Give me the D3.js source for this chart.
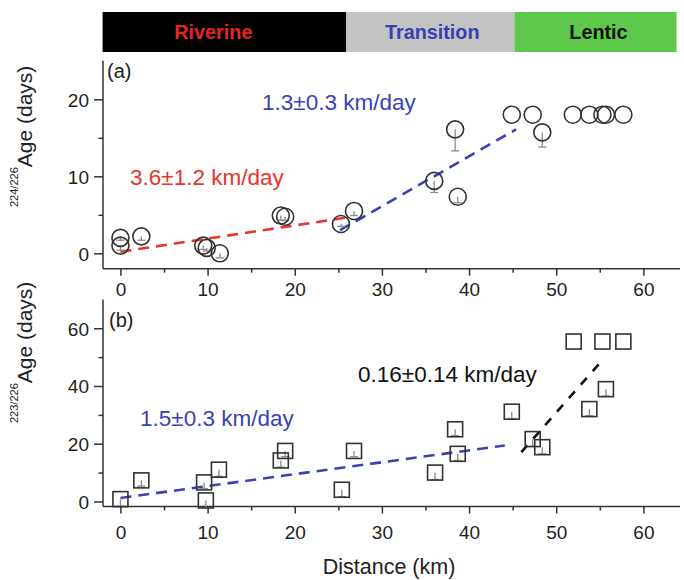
<!DOCTYPE html>
<html><head><meta charset="utf-8">
<script src="https://cdn.jsdelivr.net/npm/d3@7"></script>
<style>body{margin:0;background:#fff;} text{font-family:"Liberation Sans",Arial,sans-serif;}</style>
</head><body>
<svg id="c" width="684" height="580"></svg>
<script>
// ---- data ----
const zoneNames = ["Riverine", "Transition", "Lentic"];
const zoneStart = [-2.05, 25.9, 45.2];
const zoneEnd = [25.9, 45.2, 63.8];

const distA = [0, 0, 2.4, 9.5, 9.9, 11.4, 18.4, 18.9, 25.3, 26.8, 36.0, 38.4, 38.7, 44.9, 47.3, 48.4, 51.9, 53.8, 55.3, 55.7, 57.7];
const ageA  = [2.0, 1.0, 2.2, 1.0, 0.7, 0.0, 4.9, 4.75, 3.8, 5.5, 9.4, 16.1, 7.35, 18.0, 18.0, 15.7, 18.0, 18.0, 18.0, 18.0, 18.0];
const errA  = [0.3, 0.6, 0.5, 0.5, 0.4, 0.6, 0.6, 0.5, 0.3, 0.6, 1.5, 2.8, 0.8, 0, 0, 1.9, 0, 0, 0, 0, 0];

const distB = [0, 2.4, 9.6, 9.8, 11.3, 18.4, 18.9, 25.4, 26.8, 36.1, 38.4, 38.7, 44.9, 47.3, 48.4, 52.0, 53.8, 55.3, 55.7, 57.7];
const ageB  = [0.8, 7.3, 6.6, 0.35, 11.0, 14.2, 17.5, 4.05, 17.5, 10.0, 25.0, 16.5, 31.1, 21.6, 18.8, 55.4, 32.0, 55.4, 38.9, 55.4];
const errB  = [2.5, 2.0, 2.2, 2.5, 2.3, 2.3, 2.0, 2.4, 2.0, 2.4, 2.2, 2.3, 2.4, 2.5, 2.3, 0, 2.3, 0, 2.4, 0];

const fitRedA  = {x: [0, 26.3], y: [0.2, 4.7]};
const fitBlueA = {x: [25.2, 45.4], y: [3.0, 16.1]};
const fitBlueB = {x: [0, 44.1], y: [1.2, 19.4]};
const fitBlackB = {x: [46.0, 55.3], y: [17.1, 49.0]};

const xTicks = [0, 10, 20, 30, 40, 50, 60];
const xMinor = [5, 15, 25, 35, 45, 55];
const yTicksA = [0, 10, 20];
const yMinorA = [5, 15];
const yTicksB = [0, 20, 40, 60];
const yMinorB = [10, 30, 50];

// ---- drawing ----
const svg = d3.select("#c");
const x = d3.scaleLinear().domain([-2, 64.2]).range([103, 680]);
const yA = d3.scaleLinear().domain([-2, 25]).range([268.7, 60.8]);
const yB = d3.scaleLinear().domain([-1.75, 70]).range([506.5, 299.4]);

const AX = "#333";
const zoneFill = ["#000000", "#c3c3c3", "#5dc84b"];
const zoneText = ["#e3271f", "#3a40b2", "#111111"];
const zoneShift = [-11, 2, 3];

// zone bar
zoneNames.forEach((n, i) => {
  svg.append("rect").attr("x", x(zoneStart[i])).attr("y", 12)
    .attr("width", x(zoneEnd[i]) - x(zoneStart[i])).attr("height", 40)
    .attr("fill", zoneFill[i]);
  svg.append("text").attr("x", (x(zoneStart[i]) + x(zoneEnd[i])) / 2 + zoneShift[i]).attr("y", 38.5)
    .attr("text-anchor", "middle").attr("font-size", 19.8).attr("font-weight", "bold")
    .attr("fill", zoneText[i]).text(n);
});

function panel(y, yTicks, yMinor, labelBase) {
  const g = svg.append("g");
  const [y0, y1] = y.range();
  const xa = d3.axisBottom(x).tickValues(xTicks).tickSize(7).tickFormat(d3.format("d"));
  const gx = g.append("g").attr("transform", `translate(0,${y0})`).call(xa);
  gx.select(".domain").attr("d", `M${x.range()[0]},0H${x.range()[1]}`);
  gx.selectAll("text").attr("font-size", 19).attr("fill", "#222").attr("dy", null).attr("y", labelBase - y0);
  const xm = d3.axisBottom(x).tickValues(xMinor).tickSize(4).tickFormat("");
  g.append("g").attr("transform", `translate(0,${y0})`).call(xm).select(".domain").remove();
  const ya = d3.axisLeft(y).tickValues(yTicks).tickSize(9).tickFormat(d3.format("d"));
  const gy = g.append("g").attr("transform", `translate(${x.range()[0]},0)`).call(ya);
  gy.select(".domain").attr("d", `M0,${y0}V${y1}`);
  gy.selectAll("text").attr("font-size", 19).attr("fill", "#222").attr("x", -14).attr("dy", "0.36em");
  const ym = d3.axisLeft(y).tickValues(yMinor).tickSize(4.5).tickFormat("");
  g.append("g").attr("transform", `translate(${x.range()[0]},0)`).call(ym).select(".domain").remove();
  g.selectAll(".domain, .tick line").attr("stroke", AX).attr("stroke-width", 1.5);
  return g;
}

panel(yA, yTicksA, yMinorA, 296);
panel(yB, yTicksB, yMinorB, 539);

// panel labels
svg.append("text").attr("x", 107).attr("y", 78).attr("font-size", 20).attr("fill", "#222").text("(a)");
svg.append("text").attr("x", 109).attr("y", 327).attr("font-size", 20).attr("fill", "#222").text("(b)");

// y titles
function yTitle(xb, yb, sup) {
  const t = svg.append("text").attr("transform", `translate(${xb},${yb}) rotate(-90)`).attr("fill", "#222");
  t.append("tspan").attr("font-size", 11).attr("dy", -14).text(sup);
  t.append("tspan").attr("font-size", 21).attr("dy", 14).text("Age (days)");
}
yTitle(32, 207, "224/226");
yTitle(32, 423, "223/226");

// x title
svg.append("text").attr("x", 389).attr("y", 574).attr("text-anchor", "middle")
  .attr("font-size", 21.5).attr("fill", "#222").text("Distance (km)");

// fit lines
function fit(y, f, color, dash) {
  svg.append("line").attr("x1", x(f.x[0])).attr("y1", y(f.y[0]))
    .attr("x2", x(f.x[1])).attr("y2", y(f.y[1]))
    .attr("stroke", color).attr("stroke-width", 2.6).attr("stroke-dasharray", dash);
}
fit(yA, fitRedA, "#e8342d", "11,7");
fit(yA, fitBlueA, "#3a42b4", "11,7");
fit(yB, fitBlueB, "#3a42b4", "11,7");
fit(yB, fitBlackB, "#111", "9,9");

// error bars (lower only)
function errs(y, xs, ys, es) {
  xs.forEach((d, i) => {
    if (!es[i]) return;
    const cx = x(d), top = y(ys[i]), bot = y(ys[i] - es[i]);
    svg.append("line").attr("x1", cx).attr("x2", cx).attr("y1", top).attr("y2", bot)
      .attr("stroke", "#8a8a8a").attr("stroke-width", 1.3);
    svg.append("line").attr("x1", cx - 4).attr("x2", cx + 4).attr("y1", bot).attr("y2", bot)
      .attr("stroke", "#8a8a8a").attr("stroke-width", 1.3);
  });
}
errs(yA, distA, ageA, errA);
errs(yB, distB, ageB, errB);

// markers
svg.append("g").selectAll("circle").data(distA).join("circle")
  .attr("cx", d => x(d)).attr("cy", (d, i) => yA(ageA[i])).attr("r", 8.5)
  .attr("fill", "none").attr("stroke", "#333").attr("stroke-width", 1.6);
svg.append("g").selectAll("rect").data(distB).join("rect")
  .attr("x", d => x(d) - 7.5).attr("y", (d, i) => yB(ageB[i]) - 7.5)
  .attr("width", 15).attr("height", 15)
  .attr("fill", "none").attr("stroke", "#333").attr("stroke-width", 1.6);

// annotations
svg.append("text").attr("x", 262).attr("y", 110).attr("font-size", 22.5).attr("fill", "#3a42b4").text("1.3±0.3 km/day");
svg.append("text").attr("x", 130).attr("y", 185).attr("font-size", 22.5).attr("fill", "#e8342d").text("3.6±1.2 km/day");
svg.append("text").attr("x", 140).attr("y", 426).attr("font-size", 22.5).attr("fill", "#3a42b4").text("1.5±0.3 km/day");
svg.append("text").attr("x", 358).attr("y", 382).attr("font-size", 22.5).attr("fill", "#111").text("0.16±0.14 km/day");
</script>
</body></html>
